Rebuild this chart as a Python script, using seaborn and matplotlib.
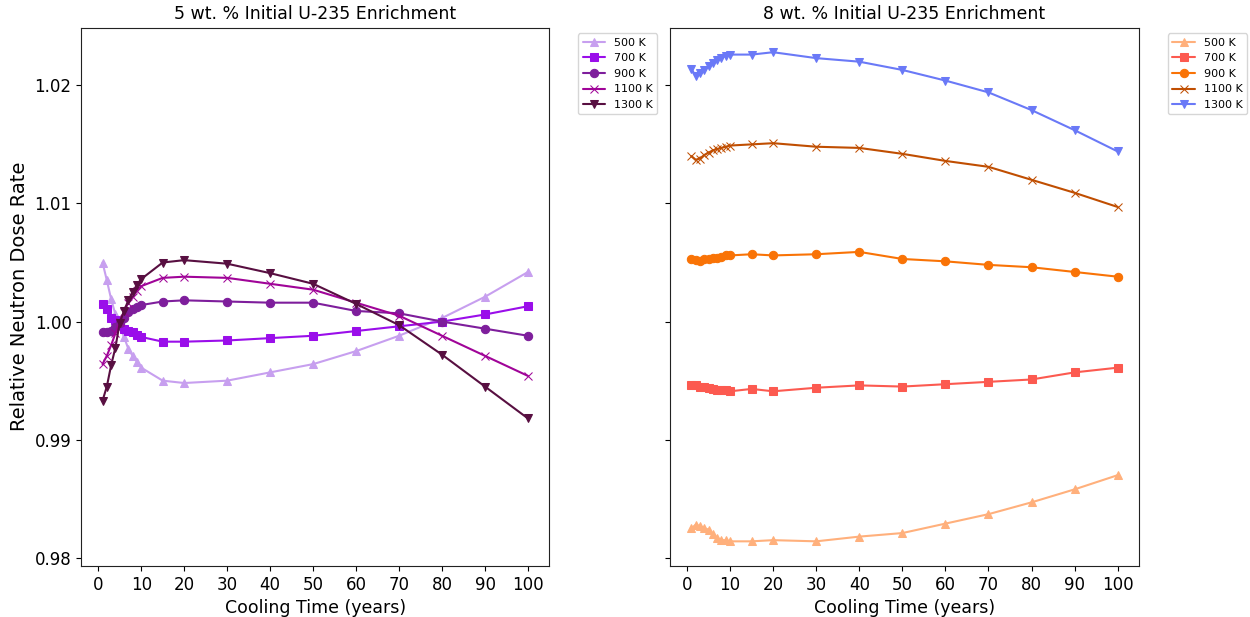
import pandas as pd
import matplotlib
matplotlib.use("Agg")
import matplotlib.pyplot as plt
import seaborn as sns

sns.set_style("ticks")
plt.rcParams['font.family'] = ['DejaVu Sans']
plt.rcParams['text.color'] = 'black'
plt.rcParams['axes.labelcolor'] = 'black'
plt.rcParams['xtick.color'] = 'black'
plt.rcParams['ytick.color'] = 'black'
plt.rcParams['axes.edgecolor'] = '#222222'

# Cooling time (years)
years = [1, 2, 3, 4, 5, 6, 7, 8, 9, 10, 15, 20, 30, 40, 50, 60, 70, 80, 90, 100]
temps = ["500 K", "700 K", "900 K", "1100 K", "1300 K"]

# 5 wt.% enrichment
e5_500 = [1.0050, 1.0035, 1.0019, 1.0006, 0.9996, 0.9987, 0.9977, 0.9971, 0.9966, 0.9961,
          0.9950, 0.9948, 0.9950, 0.9957, 0.9964, 0.9975, 0.9988, 1.0003, 1.0021, 1.0042]
e5_700 = [1.0015, 1.0011, 1.0003, 1.0001, 0.9997, 0.9994, 0.9992, 0.9991, 0.9989, 0.9987,
          0.9983, 0.9983, 0.9984, 0.9986, 0.9988, 0.9992, 0.9996, 1.0000, 1.0006, 1.0013]
e5_900 = [0.9991, 0.9991, 0.9992, 0.9995, 0.9999, 1.0003, 1.0008, 1.0011, 1.0012, 1.0014,
          1.0017, 1.0018, 1.0017, 1.0016, 1.0016, 1.0009, 1.0007, 1.0000, 0.9994, 0.9988]
e5_1100 = [0.9964, 0.9971, 0.9980, 0.9990, 1.0000, 1.0008, 1.0016, 1.0021, 1.0026, 1.0030,
           1.0037, 1.0038, 1.0037, 1.0032, 1.0027, 1.0016, 1.0005, 0.9988, 0.9971, 0.9954]
e5_1300 = [0.9933, 0.9945, 0.9963, 0.9978, 0.9999, 1.0009, 1.0018, 1.0025, 1.0031, 1.0036,
           1.0050, 1.0052, 1.0049, 1.0041, 1.0032, 1.0015, 0.9997, 0.9972, 0.9945, 0.9918]

# 8 wt.% enrichment
e8_500 = [0.9825, 0.9828, 0.9827, 0.9825, 0.9824, 0.9820, 0.9817, 0.9815, 0.9815, 0.9814,
          0.9814, 0.9815, 0.9814, 0.9818, 0.9821, 0.9829, 0.9837, 0.9847, 0.9858, 0.9870]
e8_700 = [0.9946, 0.9946, 0.9945, 0.9945, 0.9944, 0.9943, 0.9942, 0.9942, 0.9942, 0.9941,
          0.9943, 0.9941, 0.9944, 0.9946, 0.9945, 0.9947, 0.9949, 0.9951, 0.9957, 0.9961]
e8_900 = [1.0053, 1.0052, 1.0051, 1.0053, 1.0053, 1.0054, 1.0054, 1.0055, 1.0056, 1.0056,
          1.0057, 1.0056, 1.0057, 1.0059, 1.0053, 1.0051, 1.0048, 1.0046, 1.0042, 1.0038]
e8_1100 = [1.0140, 1.0137, 1.0138, 1.0141, 1.0143, 1.0145, 1.0146, 1.0147, 1.0148, 1.0149,
           1.0150, 1.0151, 1.0148, 1.0147, 1.0142, 1.0136, 1.0131, 1.0120, 1.0109, 1.0097]
e8_1300 = [1.0214, 1.0208, 1.0210, 1.0213, 1.0216, 1.0219, 1.0221, 1.0223, 1.0225, 1.0226,
           1.0226, 1.0228, 1.0223, 1.0220, 1.0213, 1.0204, 1.0194, 1.0179, 1.0162, 1.0144]

colors5 = ["xkcd:lavender", "xkcd:violet", "xkcd:purple", "xkcd:barney purple", "xkcd:plum"]
colors8 = ["xkcd:peach", "xkcd:coral", "xkcd:orange", "xkcd:burnt orange", "xkcd:cornflower"]
marker_list = ["^", "s", "o", "x", "v"]

series5 = [e5_500, e5_700, e5_900, e5_1100, e5_1300]
series8 = [e8_500, e8_700, e8_900, e8_1100, e8_1300]

fig = plt.figure(figsize=(12.5, 6.17), dpi=100)
ax1 = fig.add_axes([0.065, 0.083, 0.3744, 0.872])
ax2 = fig.add_axes([0.536, 0.083, 0.3752, 0.872], sharey=ax1)

for ax, series, cols, title in [(ax1, series5, colors5, "5 wt. % Initial U-235 Enrichment"),
                                (ax2, series8, colors8, "8 wt. % Initial U-235 Enrichment")]:
    for t, vals, c, m in zip(temps, series, cols, marker_list):
        df = pd.DataFrame({"year": years, "dose": vals})
        sns.lineplot(data=df, x="year", y="dose", color=c, marker=m,
                     markersize=6, markeredgecolor=c, linewidth=1.5,
                     label=t, ax=ax)
    ax.set_title(title, fontsize=12.5)
    ax.set_xlabel("Cooling Time (years)", fontsize=12.5)
    ax.set_xticks([0, 10, 20, 30, 40, 50, 60, 70, 80, 90, 100])
    ax.tick_params(labelsize=12)
    ax.legend(bbox_to_anchor=(1.05, 1), loc="upper left", fontsize=8)

ax1.set_ylabel("Relative Neutron Dose Rate", fontsize=14)
ax2.set_ylabel("")
ax1.set_yticks([0.98, 0.99, 1.00, 1.01, 1.02])
ax1.set_yticklabels(["0.98", "0.99", "1.00", "1.01", "1.02"])
ax2.tick_params(labelleft=False)

plt.savefig("out.png", dpi=100)
plt.close()
